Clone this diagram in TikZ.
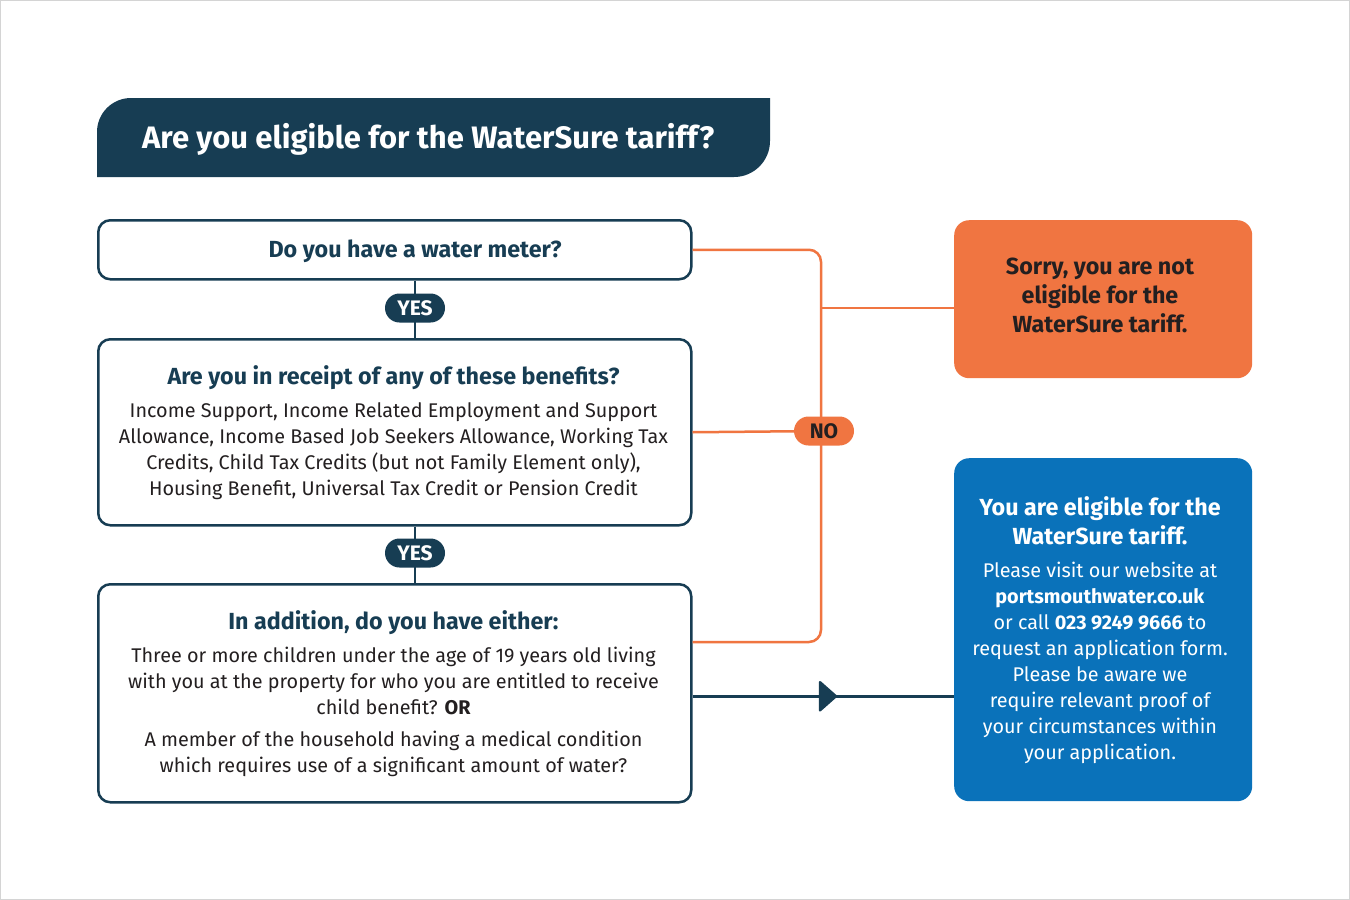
\documentclass[tikz,border=0pt]{standalone}
\usepackage{fontspec}
\setmainfont{Fira Sans}
\usetikzlibrary{arrows.meta,decorations.markings,calc}
\definecolor{navy}{HTML}{173D53}
\definecolor{orng}{HTML}{F07541}
\definecolor{blu}{HTML}{0A72BA}
\definecolor{framec}{HTML}{D4D4D4}
\definecolor{ink}{HTML}{231F20}
\begin{document}
\begin{tikzpicture}[x=1pt,y=-1pt,
  qbox/.style={draw=navy,line width=2.5pt,rounded corners=12pt,fill=white,minimum width=593pt,inner sep=0pt,anchor=north west},
  pillbox/.style={rounded corners=14.5pt,minimum width=60pt,minimum height=29pt,inner sep=0pt,font=\fontsize{21}{21}\selectfont\bfseries},
  yespill/.style={pillbox,fill=navy,text=white},
  nopill/.style={pillbox,fill=orng,text=ink},
  conn/.style={draw=navy,line width=2.5pt},
  oconn/.style={draw=orng,line width=2.5pt,rounded corners=12pt},
  bodytxt/.style={align=center,inner sep=0pt,anchor=north,text=ink,font=\fontsize{19.8}{26}\selectfont},
  endbox/.style={rounded corners=15pt,minimum width=298pt,inner sep=0pt,anchor=north west},
  midarrow/.style={postaction={decorate},decoration={markings,mark=at position #1 with {\arrow{Triangle[length=19pt,width=33pt,round]}}}}
]
\useasboundingbox (0,0) rectangle (1350,900);
\draw[framec,line width=1.2pt,fill=white] (0.6,0.6) rectangle (1349.4,899.4);

% title banner
\fill[navy] (97,177) -- (97,132) arc[start angle=180,end angle=270,radius=34] -- (770,98) -- (770,141) arc[start angle=0,end angle=90,radius=36] -- cycle;
\node[anchor=west,inner sep=0pt,text=white,font=\fontsize{31}{31}\selectfont\bfseries] (title) at (142,139.5) {Are you eligible for the WaterSure tariff?};

% question boxes
\node[qbox,minimum height=59pt] (q1) at (97,219) {};
\node[qbox,minimum height=186pt] (q2) at (97,338) {};
\node[qbox,minimum height=218pt] (q3) at (97,583) {};

% end boxes
\node[endbox,fill=orng,minimum height=158pt] (sorry) at (954,220) {};
\node[endbox,fill=blu,minimum height=343pt] (elig) at (954,458) {};

% helper coordinates
\coordinate (yc1) at (415,308);
\coordinate (yc2) at (415,553);
\coordinate (bus) at (821,431);
\coordinate (q3o) at ($(q3.north east)+(0,59)$);
\coordinate (sorryin) at ($(sorry.west)+(0,9)$);
\coordinate (q3a) at ($(q3.east)+(0,3)$);

% connectors
\draw[conn] (yc1 |- q1.south) -- (yc1 |- q2.north);
\draw[conn] (yc2 |- q2.south) -- (yc2 |- q3.north);
\draw[oconn] (q1.east) -- (q1.east -| bus) -- (bus |- q3o) -- (q3o);
\draw[oconn] (bus |- sorryin) -- (sorryin);
\draw[oconn] (q2.east) -- (bus);
\draw[conn,midarrow=0.553] (q3a) -- (q3a -| elig.west);

% pills
\node[yespill] (y1) at (yc1) {YES};
\node[yespill] (y2) at (yc2) {YES};
\node[nopill] (no) at (824,431) {NO};

% texts
\node[anchor=base,inner sep=0pt,text=navy,font=\fontsize{23.3}{26}\selectfont\bfseries] (q1t) at (415,257.5) {Do you have a water meter?};

\node[bodytxt] (q2t) at (393.5,365) {\textcolor{navy}{\fontsize{23.3}{26}\selectfont\bfseries Are you in receipt of any of these benefits?}\\[7pt]
Income Support, Income Related Employment and Support\\
Allowance, Income Based Job Seekers Allowance, Working Tax\\
Credits, Child Tax Credits (but not Family Element only),\\
Housing Benefit, Universal Tax Credit or Pension Credit};

\node[bodytxt] (q3t) at (393.5,610.5) {\textcolor{navy}{\fontsize{23.3}{26}\selectfont\bfseries In addition, do you have either:}\\[7pt]
Three or more children under the age of 19 years old living\\
with you at the property for who you are entitled to receive\\
child benefit? \textbf{OR}\\[6pt]
A member of the household having a medical condition\\
which requires use of a significant amount of water?};

\node[bodytxt,text=ink,font=\fontsize{23.3}{29}\selectfont\bfseries] (sorryt) at (1100,257.5) {Sorry, you are not\\eligible for the\\WaterSure tariff.};

\node[bodytxt,text=white] (eligt) at (1100,496.5) {{\fontsize{23.3}{26}\selectfont\bfseries You are eligible for the}\\[3pt]
{\fontsize{23.3}{26}\selectfont\bfseries WaterSure tariff.}\\[7pt]
Please visit our website at\\
\textbf{portsmouthwater.co.uk}\\
or call \textbf{023 9249 9666} to\\
request an application form.\\
Please be aware we\\
require relevant proof of\\
your circumstances within\\
your application.};
\end{tikzpicture}
\end{document}
